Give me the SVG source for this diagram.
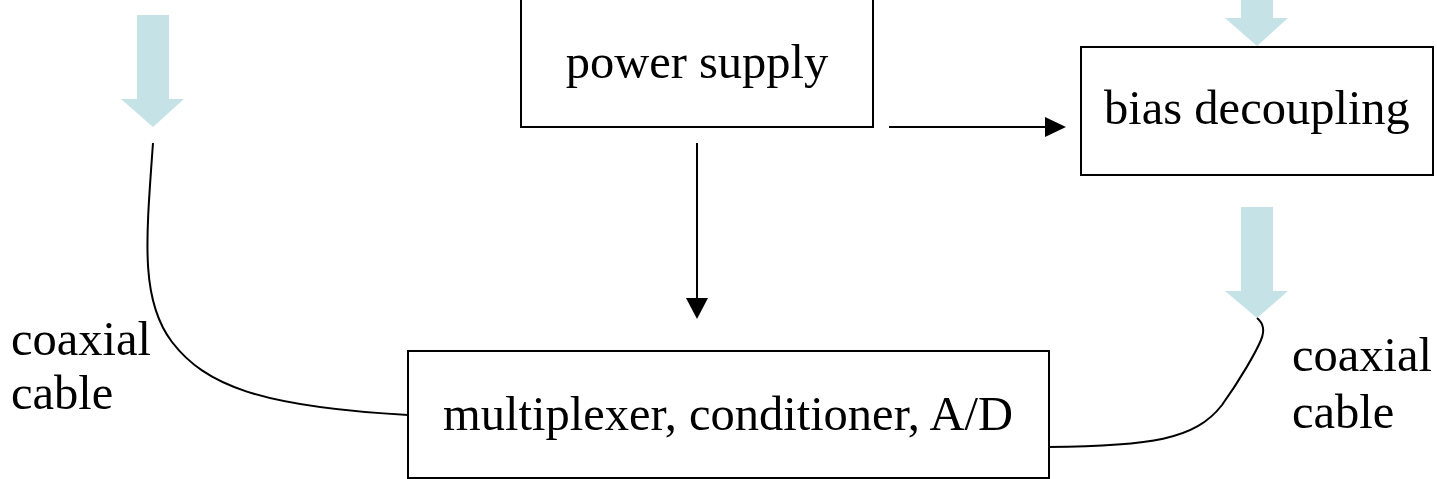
<svg xmlns="http://www.w3.org/2000/svg" width="1437" height="479" viewBox="0 0 1437 479">
<style>
.box{fill:#fff;stroke:#000;stroke-width:2}
.lbl{font-family:"Liberation Serif","Times New Roman",serif;font-size:48.5px;fill:#000}
.mid{text-anchor:middle}
.wire{fill:none;stroke:#000;stroke-width:2}
.big{fill:#C5E3E7;stroke:none}
</style>
<g id="connectors">
<path class="big" d="M137,15 H169 V99 H184 L153,127 L121,99 H137 Z"/>
<path class="big" d="M1241,0 H1273 V18 H1288 L1257,46 L1225,18 H1241 Z"/>
<path class="big" d="M1241,207 H1273 V291 H1288 L1257,318 L1225,291 H1241 Z"/>
<line x1="889" y1="127" x2="1045" y2="127" stroke="#000" stroke-width="2"/>
<path d="M1045,117 L1066,127 L1045,137 Z" fill="#000"/>
<line x1="697" y1="143" x2="697" y2="299" stroke="#000" stroke-width="2"/>
<path d="M686,298 L697,319 L708,298 Z" fill="#000"/>
<path class="wire" d="M153,143 C146,240 140,300 172,342 C205,385 260,407 408,415"/>
<path class="wire" d="M1048,447 C1150,446 1195,440 1222,405 C1240,380 1256,352 1261,340 C1266,328 1262,322 1257,318"/>
</g>
<g id="power-supply">
<rect class="box" x="521" y="-1" width="352" height="128"/>
<text class="lbl mid" x="697" y="78">power supply</text>
</g>
<g id="bias-decoupling">
<rect class="box" x="1081" y="47" width="352" height="128"/>
<text class="lbl mid" x="1257" y="124">bias decoupling</text>
</g>
<g id="multiplexer">
<rect class="box" x="408" y="351" width="641" height="127"/>
<text class="lbl mid" x="728" y="430">multiplexer, conditioner, A/D</text>
</g>
<g id="label-left">
<text class="lbl" x="11" y="355">coaxial</text>
<text class="lbl" x="11" y="409">cable</text>
</g>
<g id="label-right">
<text class="lbl" x="1292" y="371">coaxial</text>
<text class="lbl" x="1292" y="428">cable</text>
</g>
</svg>
